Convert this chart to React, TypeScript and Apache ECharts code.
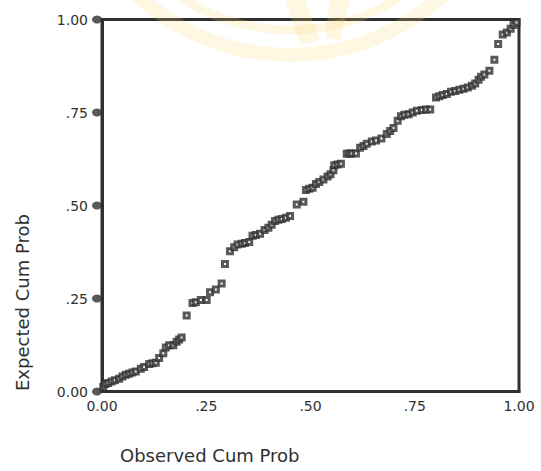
import React, { useEffect, useRef } from "react";
import * as echarts from "echarts";

const observed = [
  0.003, 0.008, 0.015, 0.023, 0.031, 0.041, 0.049, 0.057, 0.065, 0.073, 0.081, 0.093,
  0.101, 0.113, 0.121, 0.129, 0.137, 0.147, 0.153, 0.161, 0.171, 0.179, 0.185, 0.191,
  0.203, 0.217, 0.225, 0.237, 0.251, 0.259, 0.273, 0.287, 0.295, 0.307, 0.317, 0.325,
  0.335, 0.343, 0.353, 0.361, 0.369, 0.379, 0.39, 0.399, 0.407, 0.415, 0.423, 0.431,
  0.441, 0.451, 0.467, 0.483, 0.489, 0.497, 0.505, 0.513, 0.521, 0.531, 0.541, 0.548,
  0.555, 0.557, 0.565, 0.573, 0.587, 0.593, 0.599, 0.609, 0.619, 0.627, 0.635, 0.647,
  0.657, 0.67, 0.683, 0.691, 0.699, 0.709, 0.717, 0.725, 0.735, 0.745, 0.755, 0.767,
  0.777, 0.787, 0.801, 0.809, 0.817, 0.827, 0.837, 0.847, 0.857, 0.867, 0.877, 0.887,
  0.895, 0.903, 0.909, 0.917, 0.929, 0.941, 0.95, 0.961, 0.971, 0.98, 0.987, 0.994,
];
const expected = [
  0.012, 0.02, 0.023, 0.027, 0.03, 0.034, 0.04, 0.045, 0.048, 0.051, 0.054, 0.061,
  0.066, 0.074, 0.076, 0.077, 0.09, 0.103, 0.118, 0.124, 0.124, 0.134, 0.14, 0.145,
  0.204, 0.238, 0.24, 0.246, 0.246, 0.267, 0.274, 0.29, 0.343, 0.377, 0.388, 0.395,
  0.397, 0.399, 0.402, 0.419, 0.421, 0.424, 0.434, 0.44, 0.448, 0.458, 0.462, 0.464,
  0.467, 0.472, 0.503, 0.51, 0.542, 0.545, 0.548, 0.558, 0.563, 0.57, 0.578, 0.584,
  0.595, 0.608, 0.61, 0.612, 0.639, 0.64, 0.64, 0.64, 0.655, 0.66, 0.666, 0.672,
  0.675, 0.68, 0.692, 0.7, 0.708, 0.728, 0.74, 0.744, 0.745, 0.75, 0.755, 0.757,
  0.758, 0.758, 0.79, 0.794, 0.797, 0.8, 0.806, 0.808, 0.811, 0.814, 0.817, 0.822,
  0.828, 0.838, 0.846, 0.852, 0.862, 0.892, 0.934, 0.96, 0.965, 0.975, 0.985, 0.992,
];
const tickValues = [0, 0.25, 0.5, 0.75, 1];
const tickLabels = ["0.00", ".25", ".50", ".75", "1.00"];
const xTitle = "Observed Cum Prob";
const yTitle = "Expected Cum Prob";

const FONT = "DejaVu Sans, Verdana, sans-serif";
const INK = "#303030";

export default function App() {
  const ref = useRef<HTMLDivElement>(null);
  useEffect(() => {
    if (!ref.current) return;
    const chart = echarts.init(ref.current, undefined, { renderer: "svg" });
    const fmt = (v: number) => {
      const i = tickValues.findIndex((t) => Math.abs(t - v) < 1e-9);
      return i >= 0 ? tickLabels[i] : "";
    };
    const wm = "rgba(250, 215, 110, 0.2)";
    chart.setOption({
      animation: false,
      backgroundColor: "#ffffff",
      grid: {
        left: 102,
        top: 19.5,
        width: 417,
        height: 372,
        show: true,
        borderColor: INK,
        borderWidth: 3,
        backgroundColor: "transparent",
      },
      xAxis: {
        type: "value",
        min: 0,
        max: 1,
        interval: 0.25,
        axisLine: { show: true, onZero: false, lineStyle: { color: INK, width: 3 } },
        axisTick: { show: false },
        splitLine: { show: false },
        axisLabel: {
          formatter: fmt,
          color: INK,
          fontSize: 14,
          fontFamily: FONT,
          margin: 7,
          showMinLabel: true,
          showMaxLabel: true,
        },
      },
      yAxis: {
        type: "value",
        min: 0,
        max: 1,
        interval: 0.25,
        axisLine: { show: true, onZero: false, lineStyle: { color: INK, width: 3 } },
        axisTick: { show: false },
        splitLine: { show: false },
        axisLabel: {
          formatter: fmt,
          color: INK,
          fontSize: 14,
          fontFamily: FONT,
          margin: 14,
          showMinLabel: true,
          showMaxLabel: true,
        },
      },
      graphic: [
        {
          type: "group",
          silent: true,
          z: -10,
          children: [
            { type: "arc", shape: { cx: 290, cy: -170, r: 225, startAngle: Math.PI * 0.08, endAngle: Math.PI * 0.92 }, style: { stroke: wm, lineWidth: 14, fill: "none" } },
            { type: "arc", shape: { cx: 290, cy: -170, r: 200, startAngle: Math.PI * 0.1, endAngle: Math.PI * 0.9 }, style: { stroke: wm, lineWidth: 9, fill: "none" } },
            { type: "polygon", shape: { points: [[285, 0], [305, 0], [320, 40], [300, 45]] }, style: { fill: wm } },
            { type: "polygon", shape: { points: [[330, 0], [350, 0], [340, 40], [325, 38]] }, style: { fill: wm } },
          ],
        },
        {
          type: "text",
          left: 120,
          top: 446,
          style: { text: xTitle, fontSize: 18, fontFamily: FONT, fill: INK },
        },
        {
          type: "text",
          x: 22,
          y: 391,
          rotation: Math.PI / 2,
          style: {
            text: yTitle,
            fontSize: 18,
            fontFamily: FONT,
            fill: INK,
            textAlign: "left",
            textVerticalAlign: "middle",
          },
        },
      ],
      series: [
        {
          type: "scatter",
          silent: true,
          symbol: "circle",
          symbolSize: [10, 8],
          symbolOffset: [-5, 0],
          data: tickValues.map((v) => [0, v]),
          itemStyle: { color: INK },
          z: 1,
        },
        {
          type: "scatter",
          silent: true,
          symbol: "rect",
          symbolSize: 5,
          data: observed.map((x, i) => [x, expected[i]]),
          itemStyle: { color: "#ffffff", borderColor: INK, borderWidth: 3 },
          z: 3,
        },
      ],
    });
    return () => chart.dispose();
  }, []);
  return (
    <div
      ref={ref}
      style={{ position: "fixed", left: 0, top: 0, width: 541, height: 471 }}
    />
  );
}
